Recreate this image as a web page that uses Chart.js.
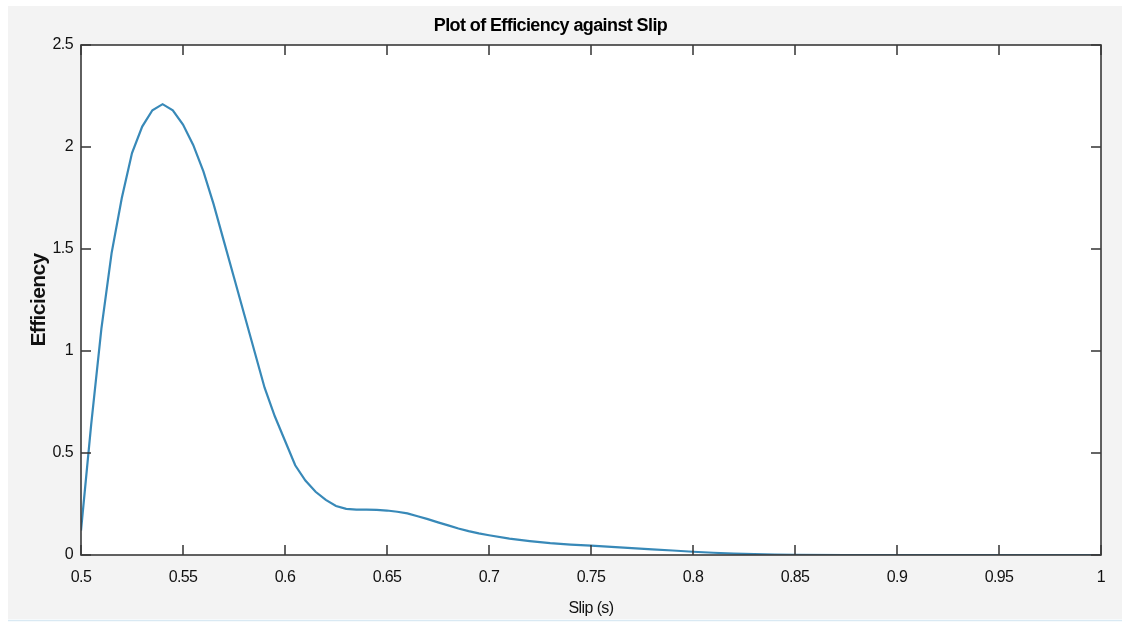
<!DOCTYPE html>
<html>
<head>
<meta charset="utf-8">
<script src="https://cdn.jsdelivr.net/npm/chart.js@4.4.0/dist/chart.umd.min.js"></script>
<style>
  html, body { margin: 0; padding: 0; background: #ffffff; }
  #wrap { width: 1122px; height: 624px; position: relative; }
</style>
</head>
<body>
<div id="wrap"><canvas id="c" width="1122" height="624"></canvas></div>
<script>
const chartTitle = 'Plot of Efficiency against Slip';
const xAxisTitle = 'Slip (s)';
const yAxisTitle = 'Efficiency';

const slip = [0.5,0.505,0.51,0.515,0.52,0.525,0.53,0.535,0.54,0.545,0.55,0.555,0.56,0.565,0.57,0.575,0.58,0.585,0.59,0.595,0.6,0.605,0.61,0.615,0.62,0.625,0.63,0.635,0.64,0.645,0.65,0.655,0.66,0.665,0.67,0.675,0.68,0.685,0.69,0.695,0.7,0.71,0.72,0.73,0.74,0.75,0.76,0.77,0.78,0.79,0.8,0.81,0.82,0.83,0.84,0.85,0.875,0.9,0.95,1.0];
const efficiency = [0.12,0.64,1.11,1.48,1.75,1.97,2.10,2.18,2.21,2.18,2.11,2.01,1.88,1.72,1.54,1.36,1.18,1.0,0.82,0.68,0.56,0.44,0.365,0.31,0.27,0.24,0.226,0.222,0.222,0.221,0.218,0.212,0.204,0.19,0.176,0.16,0.145,0.13,0.117,0.106,0.097,0.08,0.068,0.058,0.051,0.046,0.04,0.034,0.028,0.022,0.016,0.011,0.007,0.004,0.002,0.001,0,0,0,0];

const xTicks = [0.5,0.55,0.6,0.65,0.7,0.75,0.8,0.85,0.9,0.95,1];
const xTickLabels = ['0.5','0.55','0.6','0.65','0.7','0.75','0.8','0.85','0.9','0.95','1'];
const yTicks = [0,0.5,1,1.5,2,2.5];
const yTickLabels = ['0','0.5','1','1.5','2','2.5'];

const FONT = '"Liberation Sans", Arial, sans-serif';

const points = slip.map((s, i) => ({ x: s, y: efficiency[i] }));

const spacingPlugin = {
  id: 'spacing',
  beforeLayout(chart) { try { chart.ctx.letterSpacing = '-0.6px'; } catch (e) {} },
  beforeDraw(chart) { try { chart.ctx.letterSpacing = '-0.6px'; } catch (e) {} }
};

const framePlugin = {
  id: 'frame',
  beforeDraw(chart) {
    const { ctx, chartArea: a } = chart;
    ctx.save();
    ctx.fillStyle = '#ffffff';
    ctx.fillRect(0, 0, chart.width, chart.height);
    ctx.fillStyle = '#f3f3f3';
    ctx.fillRect(8, 6, chart.width - 8, 613);
    ctx.strokeStyle = '#d9e9f3';
    ctx.lineWidth = 1.5;
    ctx.beginPath();
    ctx.moveTo(8, 620.5);
    ctx.lineTo(chart.width, 620.5);
    ctx.stroke();
    ctx.fillStyle = '#ffffff';
    ctx.fillRect(a.left, a.top, a.right - a.left, a.bottom - a.top);
    ctx.restore();
  },
  afterDatasetsDraw(chart) {
    const { ctx, chartArea: a, scales } = chart;
    const tl = 10;
    ctx.save();
    ctx.strokeStyle = '#333333';
    ctx.lineWidth = 1.5;
    ctx.beginPath();
    scales.x.ticks.forEach(t => {
      const px = scales.x.getPixelForValue(t.value);
      ctx.moveTo(px, a.bottom); ctx.lineTo(px, a.bottom - tl);
      ctx.moveTo(px, a.top); ctx.lineTo(px, a.top + tl);
    });
    scales.y.ticks.forEach(t => {
      const py = scales.y.getPixelForValue(t.value);
      ctx.moveTo(a.left, py); ctx.lineTo(a.left + tl, py);
      ctx.moveTo(a.right, py); ctx.lineTo(a.right - tl, py);
    });
    ctx.stroke();
    ctx.strokeStyle = '#3a3a3a';
    ctx.lineWidth = 1.6;
    ctx.strokeRect(a.left, a.top, a.right - a.left, a.bottom - a.top);
    ctx.restore();
  }
};

new Chart(document.getElementById('c'), {
  type: 'line',
  data: {
    datasets: [{
      data: points,
      borderColor: '#3889b8',
      borderWidth: 2.2,
      pointRadius: 0,
      tension: 0,
      fill: false
    }]
  },
  options: {
    responsive: false,
    animation: false,
    devicePixelRatio: 1,
    layout: { padding: { left: 0, right: 21, top: 0, bottom: 0 } },
    plugins: {
      legend: { display: false },
      tooltip: { enabled: false },
      title: {
        display: true,
        text: chartTitle,
        color: '#000000',
        font: { family: FONT, size: 18, weight: 'bold', lineHeight: 1.2 },
        padding: { top: 15, bottom: 8.4 }
      }
    },
    scales: {
      x: {
        type: 'linear',
        min: 0.5,
        max: 1,
        afterFit(scale) { scale.height = 69; },
        afterBuildTicks(scale) { scale.ticks = xTicks.map(v => ({ value: v })); },
        grid: { display: false, drawTicks: false },
        border: { display: false },
        ticks: {
          color: '#111111',
          padding: 13,
          maxRotation: 0,
          autoSkip: false,
          font: { family: FONT, size: 16 },
          callback: (v, i) => xTickLabels[i]
        },
        title: {
          display: true,
          text: xAxisTitle,
          color: '#111111',
          font: { family: FONT, size: 16, lineHeight: 1.2 },
          padding: { top: 0, bottom: 6 }
        }
      },
      y: {
        type: 'linear',
        min: 0,
        max: 2.5,
        afterFit(scale) { scale.width = 81; },
        afterBuildTicks(scale) { scale.ticks = yTicks.map(v => ({ value: v })); },
        grid: { display: false, drawTicks: false },
        border: { display: false },
        ticks: {
          color: '#111111',
          padding: 8,
          autoSkip: false,
          font: { family: FONT, size: 16 },
          callback: (v, i) => yTickLabels[i]
        },
        title: {
          display: true,
          text: yAxisTitle,
          color: '#111111',
          font: { family: FONT, size: 21, weight: 'bold', lineHeight: 1.2 },
          padding: { top: 27, bottom: 0 }
        }
      }
    }
  },
  plugins: [spacingPlugin, framePlugin]
});
</script>
</body>
</html>
